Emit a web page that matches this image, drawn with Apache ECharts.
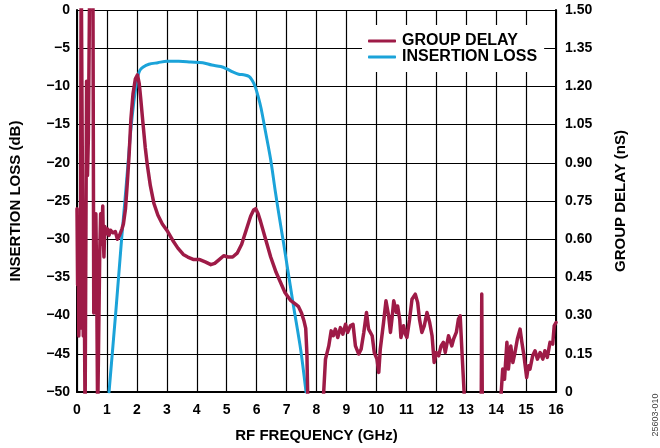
<!DOCTYPE html>
<html><head><meta charset="utf-8">
<script src="https://cdn.jsdelivr.net/npm/echarts@6/dist/echarts.min.js"></script>
<style>html,body{margin:0;padding:0;background:#fff}#c{width:660px;height:448px}</style>
</head><body><div id="c"></div>
<script>
// Insertion loss (dB) vs RF frequency (GHz)
const ilFreq = [1.07,1.3,1.5,1.6,1.7,1.8,1.9,1.97,2.03,2.1,2.2,2.4,2.7,3.0,3.4,3.8,4.2,4.5,4.8,5.0,5.2,5.4,5.6,5.75,5.85,5.95,6.05,6.15,6.3,6.47,6.63,6.77,6.9,7.02,7.23,7.47,7.65];
const ilValues = [-50,-39.3,-29.5,-25,-20.3,-15.6,-12,-10,-8.7,-7.9,-7.5,-7.1,-6.9,-6.7,-6.7,-6.8,-6.9,-7.2,-7.4,-7.7,-8.1,-8.4,-8.5,-8.7,-9.2,-10,-11.3,-12.9,-16,-19.6,-23.9,-27.4,-30.5,-33.5,-38.7,-44.4,-50];

// Group delay (ns) vs RF frequency (GHz); values outside 0..1.5 run off the plot
const gdFreq = [0.00,0.02,0.04,0.06,0.09,0.11,0.14,0.18,0.21,0.24,0.27,0.30,0.32,0.35,0.38,0.43,0.53,0.56,0.59,0.63,0.66,0.69,0.72,0.76,0.79,0.82,0.86,0.88,0.90,0.93,0.97,1.02,1.07,1.12,1.20,1.28,1.35,1.42,1.50,
1.55,1.62,1.68,1.74,1.80,1.87,1.95,2.02,2.08,2.13,2.20,2.28,2.35,2.45,2.57,2.70,2.85,3.03,3.20,3.37,3.55,3.70,3.90,4.10,4.30,4.47,4.60,4.75,4.90,5.05,5.20,5.35,5.50,5.65,5.80,5.90,5.97,6.05,6.13,6.30,6.47,6.65,6.80,6.95,7.13,7.30,7.40,7.50,7.58,7.64,7.68,7.72,
8.20,8.24,8.30,8.41,8.49,8.56,8.63,8.71,8.80,8.88,8.97,9.04,9.13,9.22,9.30,9.41,9.49,9.58,9.67,9.74,9.86,9.93,10.02,10.08,10.13,10.24,10.32,10.41,10.47,10.52,10.58,10.67,10.71,10.78,10.82,10.91,10.97,11.02,11.11,11.19,11.30,11.38,11.44,11.52,11.60,11.69,11.78,11.86,11.93,12.00,12.08,12.16,12.24,12.30,12.41,12.52,12.58,12.67,12.74,12.80,12.86,12.93,12.96,
13.50,13.52,13.54,14.15,14.17,14.22,14.28,14.36,14.41,14.49,14.56,14.63,14.71,14.80,14.86,14.93,15.02,15.08,15.13,15.22,15.30,15.38,15.47,15.56,15.63,15.71,15.80,15.89,15.94,16.00];
const gdValues = [0.72,0.42,0.62,0.22,0.45,0.25,1.7,1.7,0.22,0.45,-0.1,-0.1,1.22,0.85,1.0,1.7,1.7,0.31,0.55,0.70,0.40,-0.1,-0.1,0.55,0.70,0.58,0.73,0.60,0.53,0.65,0.62,0.64,0.615,0.635,0.625,0.63,0.60,0.615,0.64,
0.66,0.72,0.82,0.93,1.07,1.17,1.23,1.245,1.21,1.15,1.06,0.96,0.89,0.81,0.74,0.695,0.66,0.63,0.595,0.565,0.54,0.53,0.52,0.52,0.51,0.50,0.505,0.52,0.535,0.53,0.53,0.545,0.58,0.635,0.69,0.715,0.72,0.70,0.67,0.60,0.53,0.47,0.43,0.39,0.36,0.345,0.335,0.31,0.28,0.25,0.15,-0.1,
-0.1,0,0.129,0.181,0.240,0.221,0.247,0.214,0.253,0.227,0.266,0.234,0.260,0.266,0.181,0.149,0.168,0.234,0.312,0.247,0.221,0.155,0.129,0.077,0.168,0.273,0.358,0.299,0.234,0.286,0.358,0.312,0.338,0.286,0.214,0.260,0.227,0.214,0.286,0.364,0.384,0.351,0.286,0.234,0.260,0.312,0.273,0.221,0.116,0.155,0.142,0.181,0.195,0.155,0.221,0.181,0.208,0.234,0.286,0.299,0.155,0,-0.1,
-0.1,0.385,-0.1,-0.1,0,0.09,0.05,0.195,0.09,0.181,0.116,0.155,0.208,0.247,0.195,0.142,0.057,0.103,0.09,0.142,0.162,0.129,0.155,0.129,0.162,0.136,0.195,0.188,0.26,0.273];

const seriesNames = ['GROUP DELAY', 'INSERTION LOSS'];
const xTitle = 'RF FREQUENCY (GHz)';
const yLeftTitle = 'INSERTION LOSS (dB)';
const yRightTitle = 'GROUP DELAY (nS)';
const figureCode = '25603-010';

const FONT = "'Liberation Sans', Arial, sans-serif";
const RED = '#9e1b47';
const BLUE = '#1ba3d9';

const chart = echarts.init(document.getElementById('c'), null, {renderer: 'canvas'});
const labelStyle = {color: '#000', fontFamily: FONT, fontWeight: 'bold', fontSize: 14};
const titleStyle = {color: '#000', fontFamily: FONT, fontWeight: 'bold', fontSize: 15};

chart.setOption({
  animation: false,
  backgroundColor: '#fff',
  grid: {left: 76, right: 104, top: 10, bottom: 55, containLabel: false},
  legend: {
    data: seriesNames,
    orient: 'vertical',
    left: 362, top: 25,
    padding: [8, 7, 7, 6],
    backgroundColor: '#fff',
    itemWidth: 28, itemHeight: 3, itemGap: 0,
    icon: 'roundRect',
    z: 10,
    textStyle: {color: '#000', fontFamily: FONT, fontWeight: 'bold', fontSize: 16, lineHeight: 16, padding: [0,0,0,1]}
  },
  xAxis: {
    type: 'value', min: 0, max: 16, interval: 1,
    name: xTitle, nameLocation: 'middle', nameGap: 36, nameTextStyle: titleStyle,
    axisLine: {show: true, onZero: false, lineStyle: {color: '#000', width: 2}},
    axisTick: {show: false},
    axisLabel: Object.assign({margin: 11}, labelStyle),
    splitLine: {show: true, lineStyle: {color: '#000', width: 1.2}}
  },
  yAxis: [{
    type: 'value', min: -50, max: 0, interval: 5, position: 'left',
    name: yLeftTitle, nameLocation: 'middle', nameGap: 54, nameRotate: 90, nameTextStyle: titleStyle,
    axisLine: {show: true, onZero: false, lineStyle: {color: '#000', width: 2}},
    axisTick: {show: false},
    axisLabel: Object.assign({margin: 7, formatter: v => String(v).replace('-', '\u2212')}, labelStyle),
    splitLine: {show: true, lineStyle: {color: '#000', width: 1.2}}
  }, {
    type: 'value', min: 0, max: 1.5, interval: 0.15, position: 'right',
    name: yRightTitle, nameLocation: 'middle', nameGap: 57, nameRotate: 90, nameTextStyle: titleStyle,
    axisLine: {show: true, onZero: false, lineStyle: {color: '#000', width: 2}},
    axisTick: {show: false},
    axisLabel: Object.assign({margin: 9, formatter: v => v === 0 ? '0' : v.toFixed(2)}, labelStyle),
    splitLine: {show: false}
  }],
  series: [{
    name: 'INSERTION LOSS', type: 'line', yAxisIndex: 0,
    data: ilFreq.map((f, i) => [f, ilValues[i]]),
    showSymbol: false, symbol: 'none', smooth: 0.3, clip: true,
    lineStyle: {color: BLUE, width: 3, cap: 'round', join: 'round'},
    itemStyle: {color: BLUE}, z: 2
  }, {
    name: 'GROUP DELAY', type: 'line', yAxisIndex: 1,
    data: gdFreq.map((f, i) => [f, gdValues[i]]),
    showSymbol: false, symbol: 'none', clip: true,
    lineStyle: {color: RED, width: 3.5, cap: 'round', join: 'round'},
    itemStyle: {color: RED}, z: 3
  }],
  graphic: [{
    type: 'text', x: 656, y: 415, rotation: Math.PI / 2,
    style: {text: figureCode, fill: '#444', font: "9px " + FONT, align: 'center', verticalAlign: 'middle'}
  }]
});
</script>
</body></html>
